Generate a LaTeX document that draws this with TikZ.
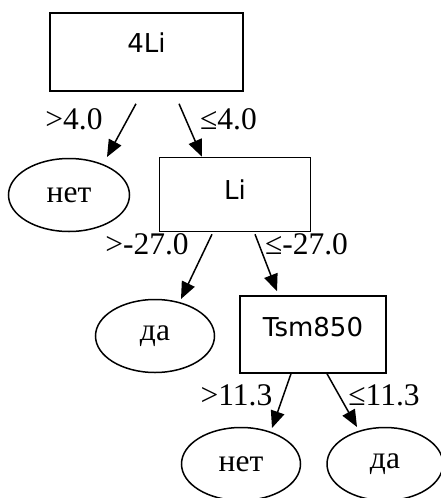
\documentclass[tikz,border=0pt]{standalone}
\usepackage{fontspec}
\setmainfont{Liberation Serif}
\newfontfamily\boxfont{DejaVu Sans}
\usetikzlibrary{shapes.geometric,arrows.meta,calc}
\tikzset{
  treebox/.style={draw, line width=1.5pt, rectangle, inner sep=0pt},
  leaf/.style={draw, line width=1.5pt, ellipse, inner sep=0pt, font=\fontsize{31.5}{36}\selectfont},
  boxtext/.style={inner sep=0pt, font=\boxfont\fontsize{26}{30}\selectfont},
  cond/.style={inner sep=0pt, anchor=base, font=\fontsize{31.5}{36}\selectfont},
  arr/.style={line width=1.5pt, -{Triangle[length=17pt,width=14pt]}}
}
\begin{document}
\begin{tikzpicture}[x=1pt,y=-1pt]
\useasboundingbox (0,0) rectangle (441,498);
% boxes
\node[treebox, minimum width=193pt, minimum height=78pt] (t1) at (146.5,52) {};
\node[boxtext] (t1txt) at (146.5,43) {4Li};
\node[treebox, minimum width=151pt, minimum height=74pt] (t2) at (235,194.5) {};
\node[boxtext] (t2txt) at (235,190) {Li};
\node[treebox, minimum width=146pt, minimum height=77pt] (ts) at (313,334.5) {};
\node[boxtext] (tstxt) at (313,327.5) {Tsm850};
% leaves
\node[leaf, minimum width=121pt, minimum height=73pt] (n1) at (69,195) {нет};
\node[leaf, minimum width=119pt, minimum height=73pt] (d1) at (155,336) {да};
\node[leaf, minimum width=119pt, minimum height=73pt] (n2) at (241,464) {нет};
\node[leaf, minimum width=116pt, minimum height=73pt] (d2) at (385,464) {да};
% edges
\draw[arr] ($(t1.south)+(-10.5,12)$) -- ($(n1.center)+(38,-38)$);
\draw[arr] ($(t1.south)+(32.5,12)$) -- ($(t2.north)+(-33,0)$);
\draw[arr] ($(t2.south)+(-23,2)$) -- ($(d1.center)+(26,-37)$);
\draw[arr] ($(t2.south)+(20,2)$) -- ($(ts.north)+(-36,-4)$);
\draw[arr] ($(ts.south)+(-22,0)$) -- ($(n2.center)+(31,-36)$);
\draw[arr] ($(ts.south)+(14,0)$) -- ($(d2.center)+(-28,-37)$);
% labels
\node[cond] (l1) at (74,129) {>4.0};
\node[cond] (l2) at (228.5,129) {≤4.0};
\node[cond] (l3) at (147,254.5) {>-27.0};
\node[cond] (l4) at (306.5,254.5) {≤-27.0};
\node[cond] (l5) at (236.5,405) {>11.3};
\node[cond] (l6) at (384,405) {≤11.3};
\end{tikzpicture}
\end{document}
